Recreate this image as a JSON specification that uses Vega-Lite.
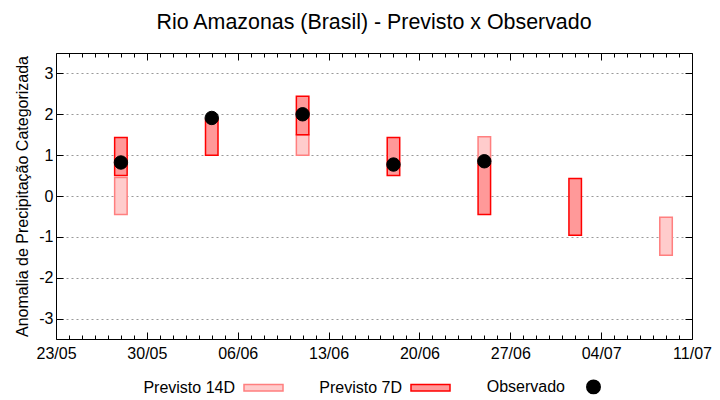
{
  "$schema": "https://vega.github.io/schema/vega-lite/v6.json",
  "width": 636,
  "height": 286,
  "autosize": {"type": "none"},
  "padding": {"left": 56, "top": 53, "right": 28, "bottom": 61},
  "background": "white",
  "config": {"font": "Liberation Sans", "view": {"stroke": null}},
  "title": {"text": "Rio Amazonas (Brasil) - Previsto x Observado", "fontSize": 21.4, "fontWeight": "normal", "font": "Liberation Sans", "anchor": "middle", "offset": 19, "color": "black"},
  "data": {"values": [
    {"date": "2023-05-28T00:00:00", "serie": "Previsto 14D", "lo": -0.45, "hi": 0.45},
    {"date": "2023-06-11T00:00:00", "serie": "Previsto 14D", "lo": 1.0, "hi": 1.5},
    {"date": "2023-06-25T00:00:00", "serie": "Previsto 14D", "lo": 0.85, "hi": 1.45},
    {"date": "2023-07-09T00:00:00", "serie": "Previsto 14D", "lo": -1.45, "hi": -0.52},
    {"date": "2023-05-28T00:00:00", "serie": "Previsto 7D", "lo": 0.5, "hi": 1.43},
    {"date": "2023-06-04T00:00:00", "serie": "Previsto 7D", "lo": 1.0, "hi": 1.88},
    {"date": "2023-06-11T00:00:00", "serie": "Previsto 7D", "lo": 1.5, "hi": 2.44},
    {"date": "2023-06-18T00:00:00", "serie": "Previsto 7D", "lo": 0.5, "hi": 1.43},
    {"date": "2023-06-25T00:00:00", "serie": "Previsto 7D", "lo": -0.45, "hi": 0.8},
    {"date": "2023-07-02T00:00:00", "serie": "Previsto 7D", "lo": -0.96, "hi": 0.43},
    {"date": "2023-05-28T00:00:00", "serie": "Observado", "obs": 0.82},
    {"date": "2023-06-04T00:00:00", "serie": "Observado", "obs": 1.91},
    {"date": "2023-06-11T00:00:00", "serie": "Observado", "obs": 2.0},
    {"date": "2023-06-18T00:00:00", "serie": "Observado", "obs": 0.77},
    {"date": "2023-06-25T00:00:00", "serie": "Observado", "obs": 0.85}
  ]},
  "layer": [
    {
      "transform": [{"filter": "datum.serie === 'Previsto 14D'"}],
      "mark": {"type": "bar", "width": 12.5, "strokeWidth": 1.5},
      "encoding": {
        "x": {"field": "date", "type": "temporal", "title": null,
          "scale": {"domain": [{"year": 2023, "month": 5, "date": 23}, {"year": 2023, "month": 7, "date": 11}], "padding": 0},
          "axis": {"orient": "bottom", "tickCount": {"interval": "day", "step": 1}, "grid": false,
            "labelExpr": "(round((datum.value - datetime(2023,4,23))/864e5) % 7 == 0) ? timeFormat(datum.value, '%d/%m') : ''",
            "labelOverlap": false, "labelFontSize": 16, "labelColor": "black", "labelPadding": 13,
            "tickSize": {"condition": {"test": "round((datum.value - datetime(2023,4,23))/864e5) % 7 == 0", "value": -7}, "value": -4},
            "tickColor": "black", "domainColor": "black", "labelFlush": false}},
        "y": {"field": "lo", "type": "quantitative",
          "scale": {"domain": [-3.5, 3.5], "nice": false, "zero": false},
          "axis": {"orient": "left", "values": [-3, -2, -1, 0, 1, 2, 3], "tickSize": -7, "tickColor": "black", "domainColor": "black",
            "grid": true, "gridDash": [2, 3], "gridColor": "#999999", "gridWidth": 1,
            "labelExpr": "'' + datum.value",
            "labelFontSize": 16, "labelColor": "black", "labelPadding": 10,
            "title": "Anomalia de Precipitação Categorizada", "titleFontSize": 16, "titleFontWeight": "normal", "titleColor": "black", "titlePadding": 8}},
        "y2": {"field": "hi"},
        "fill": {"field": "serie", "type": "nominal",
          "scale": {"domain": ["Previsto 14D", "Previsto 7D", "Observado"], "range": ["#ffcccc", "#ff9999", "#000000"]},
          "legend": {"title": null, "orient": "none", "legendX": 187, "legendY": 313, "direction": "horizontal",
            "labelFontSize": 16, "labelColor": "black", "labelAlign": "right", "labelOffset": -49,
            "symbolSize": 1521, "symbolStrokeWidth": 1.5, "columnPadding": 33,
            "encode": {"symbols": {"update": {
              "shape": {"signal": "datum.label === 'Observado' ? 'circle' : 'M-1,-0.17H1V0.17H-1Z'"},
              "size": {"signal": "datum.label === 'Observado' ? 180 : 1521"}}}}}},
        "stroke": {"field": "serie", "type": "nominal",
          "scale": {"domain": ["Previsto 14D", "Previsto 7D", "Observado"], "range": ["#ff7f7f", "#ff0000", "#000000"]},
          "legend": {"title": null, "orient": "none", "legendX": 187, "legendY": 313, "direction": "horizontal",
            "labelFontSize": 16, "labelColor": "black", "labelAlign": "right", "labelOffset": -49,
            "symbolSize": 1521, "symbolStrokeWidth": 1.5, "columnPadding": 33,
            "encode": {"symbols": {"update": {
              "shape": {"signal": "datum.label === 'Observado' ? 'circle' : 'M-1,-0.17H1V0.17H-1Z'"},
              "size": {"signal": "datum.label === 'Observado' ? 180 : 1521"}}}}}}
      }
    },
    {
      "transform": [{"filter": "datum.serie === 'Previsto 7D'"}],
      "mark": {"type": "bar", "width": 12.5, "strokeWidth": 1.5},
      "encoding": {
        "x": {"field": "date", "type": "temporal", "title": null,
          "axis": {"orient": "top", "tickCount": {"interval": "day", "step": 1}, "grid": false, "labels": false,
            "tickSize": {"condition": {"test": "round((datum.value - datetime(2023,4,23))/864e5) % 7 == 0", "value": -7}, "value": -4},
            "tickColor": "black", "domainColor": "black"}},
        "y": {"field": "lo", "type": "quantitative",
          "axis": {"orient": "right", "values": [-3, -2, -1, 0, 1, 2, 3], "tickSize": -7, "tickColor": "black", "domainColor": "black",
            "grid": false, "labels": false, "title": null}},
        "y2": {"field": "hi"},
        "fill": {"field": "serie", "type": "nominal"},
        "stroke": {"field": "serie", "type": "nominal"}
      }
    },
    {
      "transform": [{"filter": "datum.serie === 'Observado'"}],
      "mark": {"type": "point", "filled": true, "size": 180, "opacity": 1, "strokeWidth": 1},
      "encoding": {
        "x": {"field": "date", "type": "temporal", "axis": null},
        "y": {"field": "obs", "type": "quantitative", "axis": null},
        "fill": {"field": "serie", "type": "nominal"},
        "stroke": {"field": "serie", "type": "nominal"}
      }
    }
  ],
  "resolve": {"axis": {"x": "independent", "y": "independent"}}
}
